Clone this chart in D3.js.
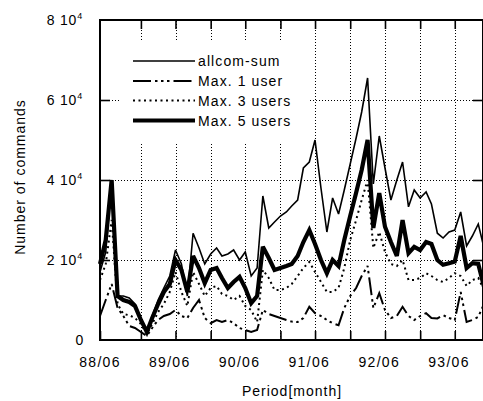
<!DOCTYPE html>
<html>
<head>
<meta charset="utf-8">
<script src="https://cdn.jsdelivr.net/npm/d3@7"></script>
<style>
  html, body { margin: 0; padding: 0; background: #fff; }
  svg { display: block; }
  text { font-family: "Liberation Sans", Arial, Helvetica, sans-serif; fill: #000; }
</style>
</head>
<body>
<svg id="chart" width="483" height="401"></svg>
<script>
// Monthly command counts, June 1988 through December 1993
const allcomSum = [17000, 22000, 40000, 11000, 11000, 10500, 9000, 5000, 2000, 6000,
  10000, 13000, 16000, 22500, 19000, 11000, 26700, 23000, 19000, 21500,
  23000, 21000, 21500, 22500, 20000, 22000, 16000, 18000, 36000, 28000,
  29500, 31000, 32000, 33500, 35000, 43000, 44500, 50000, 38000, 27000,
  35500, 31500, 37500, 44000, 50500, 57000, 65500, 39000, 51000, 43000,
  35000, 40000, 44500, 33300, 37500, 35500, 37000, 34000, 26700, 25500,
  27000, 27500, 32000, 23500, 26000, 29000, 23000];

const maxOneUser = [6000, 10000, 14000, 8000, 6000, 3500, 3000, 2000, 1000, 3000,
  5000, 6000, 6500, 7500, 6000, 5500, 8000, 10000, 5500, 4200,
  5000, 4500, 5000, 4200, 3000, 2500, 2000, 2500, 7500, 6500,
  6000, 5500, 5000, 4600, 4500, 5500, 8300, 6700, 6000, 5000,
  4200, 3700, 8000, 11000, 13000, 16000, 18500, 8000, 11700, 7500,
  5500, 6000, 8300, 6000, 5000, 6000, 6700, 5500, 5400, 6200,
  5500, 5000, 12000, 4500, 5000, 5800, 9000];

const maxThreeUsers = [15000, 19000, 30000, 9000, 6500, 6200, 5500, 4000, 1500, 4000,
  7000, 9000, 12000, 17000, 12000, 8500, 17000, 14000, 11000, 13000,
  13500, 11500, 11000, 10000, 11000, 8500, 7500, 4500, 17500, 15500,
  12500, 12500, 13000, 14000, 16000, 18000, 19500, 17000, 14500, 12000,
  12000, 13000, 18000, 25000, 30000, 35000, 40000, 23000, 27000, 22000,
  19000, 18500, 20000, 15000, 15000, 15500, 16700, 16000, 15000, 14500,
  15500, 16700, 16000, 13500, 15000, 15500, 12500];

const maxFiveUsers = [19000, 25000, 40000, 11000, 10000, 9500, 8500, 5000, 2000, 5500,
  9000, 12000, 14000, 20000, 17500, 12000, 21000, 18000, 14200, 17500,
  18000, 15500, 13000, 14500, 15800, 13000, 9200, 11000, 23300, 20500,
  17500, 18000, 18500, 19000, 21000, 24500, 27500, 24000, 20000, 16700,
  20000, 18500, 25000, 31000, 36800, 42500, 50000, 28000, 36700, 28300,
  24500, 21000, 30000, 21700, 23300, 22500, 24500, 24000, 20000, 18800,
  19200, 19600, 26000, 18000, 19200, 19000, 13300];

const yTickValues = [0, 20000, 40000, 60000, 80000];
const yTickMantissa = ["0", "2", "4", "6", "8"];
const xTickLabels = ["88/06", "89/06", "90/06", "91/06", "92/06", "93/06"];

const seriesNames = ["allcom-sum", "Max. 1 user", "Max. 3 users", "Max. 5 users"];
const seriesValues = [allcomSum, maxOneUser, maxThreeUsers, maxFiveUsers];

// Line appearance for each series
const seriesStyle = [
  { width: 1.6, dash: null },
  { width: 2, dash: "18,4,2.5,3.5,2.5,3.5,2.5,4" },
  { width: 2, dash: "2,3.5" },
  { width: 4.2, dash: null }
];

const months = d3.timeMonth.range(new Date(1988, 5, 1), new Date(1994, 0, 1));

const svg = d3.select("#chart");
const plotLeft = 100, plotRight = 484, plotTop = 20, plotBottom = 340;

const x = d3.scaleTime()
  .domain([new Date(1988, 5, 1), new Date(1993, 11, 1)])
  .range([plotLeft, plotRight]);
const y = d3.scaleLinear().domain([0, 80000]).range([plotBottom, plotTop]);

// Dotted grid
const gridTicks = d3.timeMonth.every(6).range(new Date(1988, 11, 1), new Date(1993, 11, 1));
const grid = svg.append("g").attr("stroke", "#000").attr("stroke-width", 1)
  .attr("stroke-dasharray", "1,2").attr("fill", "none");
grid.selectAll("line.v").data(gridTicks).join("line")
  .attr("x1", d => Math.round(x(d)) + 0.5).attr("x2", d => Math.round(x(d)) + 0.5)
  .attr("y1", plotBottom).attr("y2", plotTop);
grid.selectAll("line.h").data([20000, 40000, 60000]).join("line")
  .attr("x1", plotLeft).attr("x2", plotRight)
  .attr("y1", d => Math.round(y(d)) + 0.5).attr("y2", d => Math.round(y(d)) + 0.5);

// Legend panel blanks the grid behind it
svg.append("rect").attr("x", 119).attr("y", 42).attr("width", 189).attr("height", 101)
  .attr("fill", "#fff");

// Series lines
const line = d3.line()
  .x((d, i) => x(months[i]))
  .y(d => y(d));

const lines = svg.append("g").attr("fill", "none").attr("stroke", "#000")
  .attr("stroke-linejoin", "miter").attr("stroke-miterlimit", 3);
seriesValues.forEach((vals, k) => {
  lines.append("path")
    .attr("d", line(vals))
    .attr("stroke-width", seriesStyle[k].width)
    .attr("stroke-dasharray", seriesStyle[k].dash);
});

// Frame and inward ticks
const frame = svg.append("g").attr("stroke", "#000").attr("fill", "none");
frame.append("rect").attr("x", plotLeft).attr("y", plotTop)
  .attr("width", plotRight - plotLeft - 1).attr("height", plotBottom - plotTop)
  .attr("stroke-width", 2);

const xAxisBottom = d3.axisBottom(x)
  .tickValues(gridTicks.concat([new Date(1988, 5, 1)]))
  .tickSize(-9).tickFormat("");
svg.append("g").attr("transform", `translate(0,${plotBottom})`).call(xAxisBottom)
  .call(g => g.select(".domain").remove())
  .selectAll("line").attr("stroke-width", 1.6);
const xAxisTop = d3.axisTop(x).tickValues(gridTicks).tickSize(-9).tickFormat("");
svg.append("g").attr("transform", `translate(0,${plotTop})`).call(xAxisTop)
  .call(g => g.select(".domain").remove())
  .selectAll("line").attr("stroke-width", 1.6);

const yAxisLeft = d3.axisLeft(y).tickValues([20000, 40000, 60000]).tickSize(-10).tickFormat("");
svg.append("g").attr("transform", `translate(${plotLeft},0)`).call(yAxisLeft)
  .call(g => g.select(".domain").remove())
  .selectAll("line").attr("stroke-width", 1.6);
const yAxisRight = d3.axisRight(y).tickValues([20000, 40000, 60000]).tickSize(-10).tickFormat("");
svg.append("g").attr("transform", `translate(${plotRight - 1},0)`).call(yAxisRight)
  .call(g => g.select(".domain").remove())
  .selectAll("line").attr("stroke-width", 1.6);

// Y tick labels, e.g. "6 10⁴"
const yLab = svg.append("g").attr("font-size", 14).attr("text-anchor", "end");
yTickValues.forEach((v, i) => {
  const t = yLab.append("text")
    .attr("x", v === 0 ? 84 : 83)
    .attr("y", y(v) + 5)
    .attr("letter-spacing", 0.8);
  if (v === 0) {
    t.text(yTickMantissa[i]);
  } else {
    t.append("tspan").text(yTickMantissa[i] + " 10");
    t.append("tspan").attr("font-size", 9).attr("dy", -6).text("4");
  }
});

// X tick labels
const xLabDates = xTickLabels.map((s, i) => new Date(1988 + i, 5, 1));
svg.append("g").attr("font-size", 14).attr("text-anchor", "middle")
  .selectAll("text").data(xTickLabels).join("text")
  .attr("x", (d, i) => x(xLabDates[i]))
  .attr("y", 367)
  .attr("letter-spacing", 1.3)
  .text(d => d);

// Axis titles
svg.append("text").attr("x", 292).attr("y", 396).attr("font-size", 14)
  .attr("text-anchor", "middle").attr("letter-spacing", 1)
  .text("Period[month]");
svg.append("text").attr("transform", "translate(25,177) rotate(-90)")
  .attr("font-size", 14).attr("text-anchor", "middle").attr("letter-spacing", 1)
  .text("Number of commands");

// Legend
const legend = svg.append("g");
const legendRows = [61, 81, 100.5, 120.5];
seriesNames.forEach((name, k) => {
  legend.append("line")
    .attr("x1", 133).attr("x2", 195)
    .attr("y1", legendRows[k]).attr("y2", legendRows[k])
    .attr("stroke", "#000")
    .attr("stroke-width", seriesStyle[k].width)
    .attr("stroke-dasharray", seriesStyle[k].dash);
  legend.append("text")
    .attr("x", 198).attr("y", legendRows[k] + 5)
    .attr("font-size", 14).attr("letter-spacing", 1.1)
    .text(name);
});
</script>
</body>
</html>
